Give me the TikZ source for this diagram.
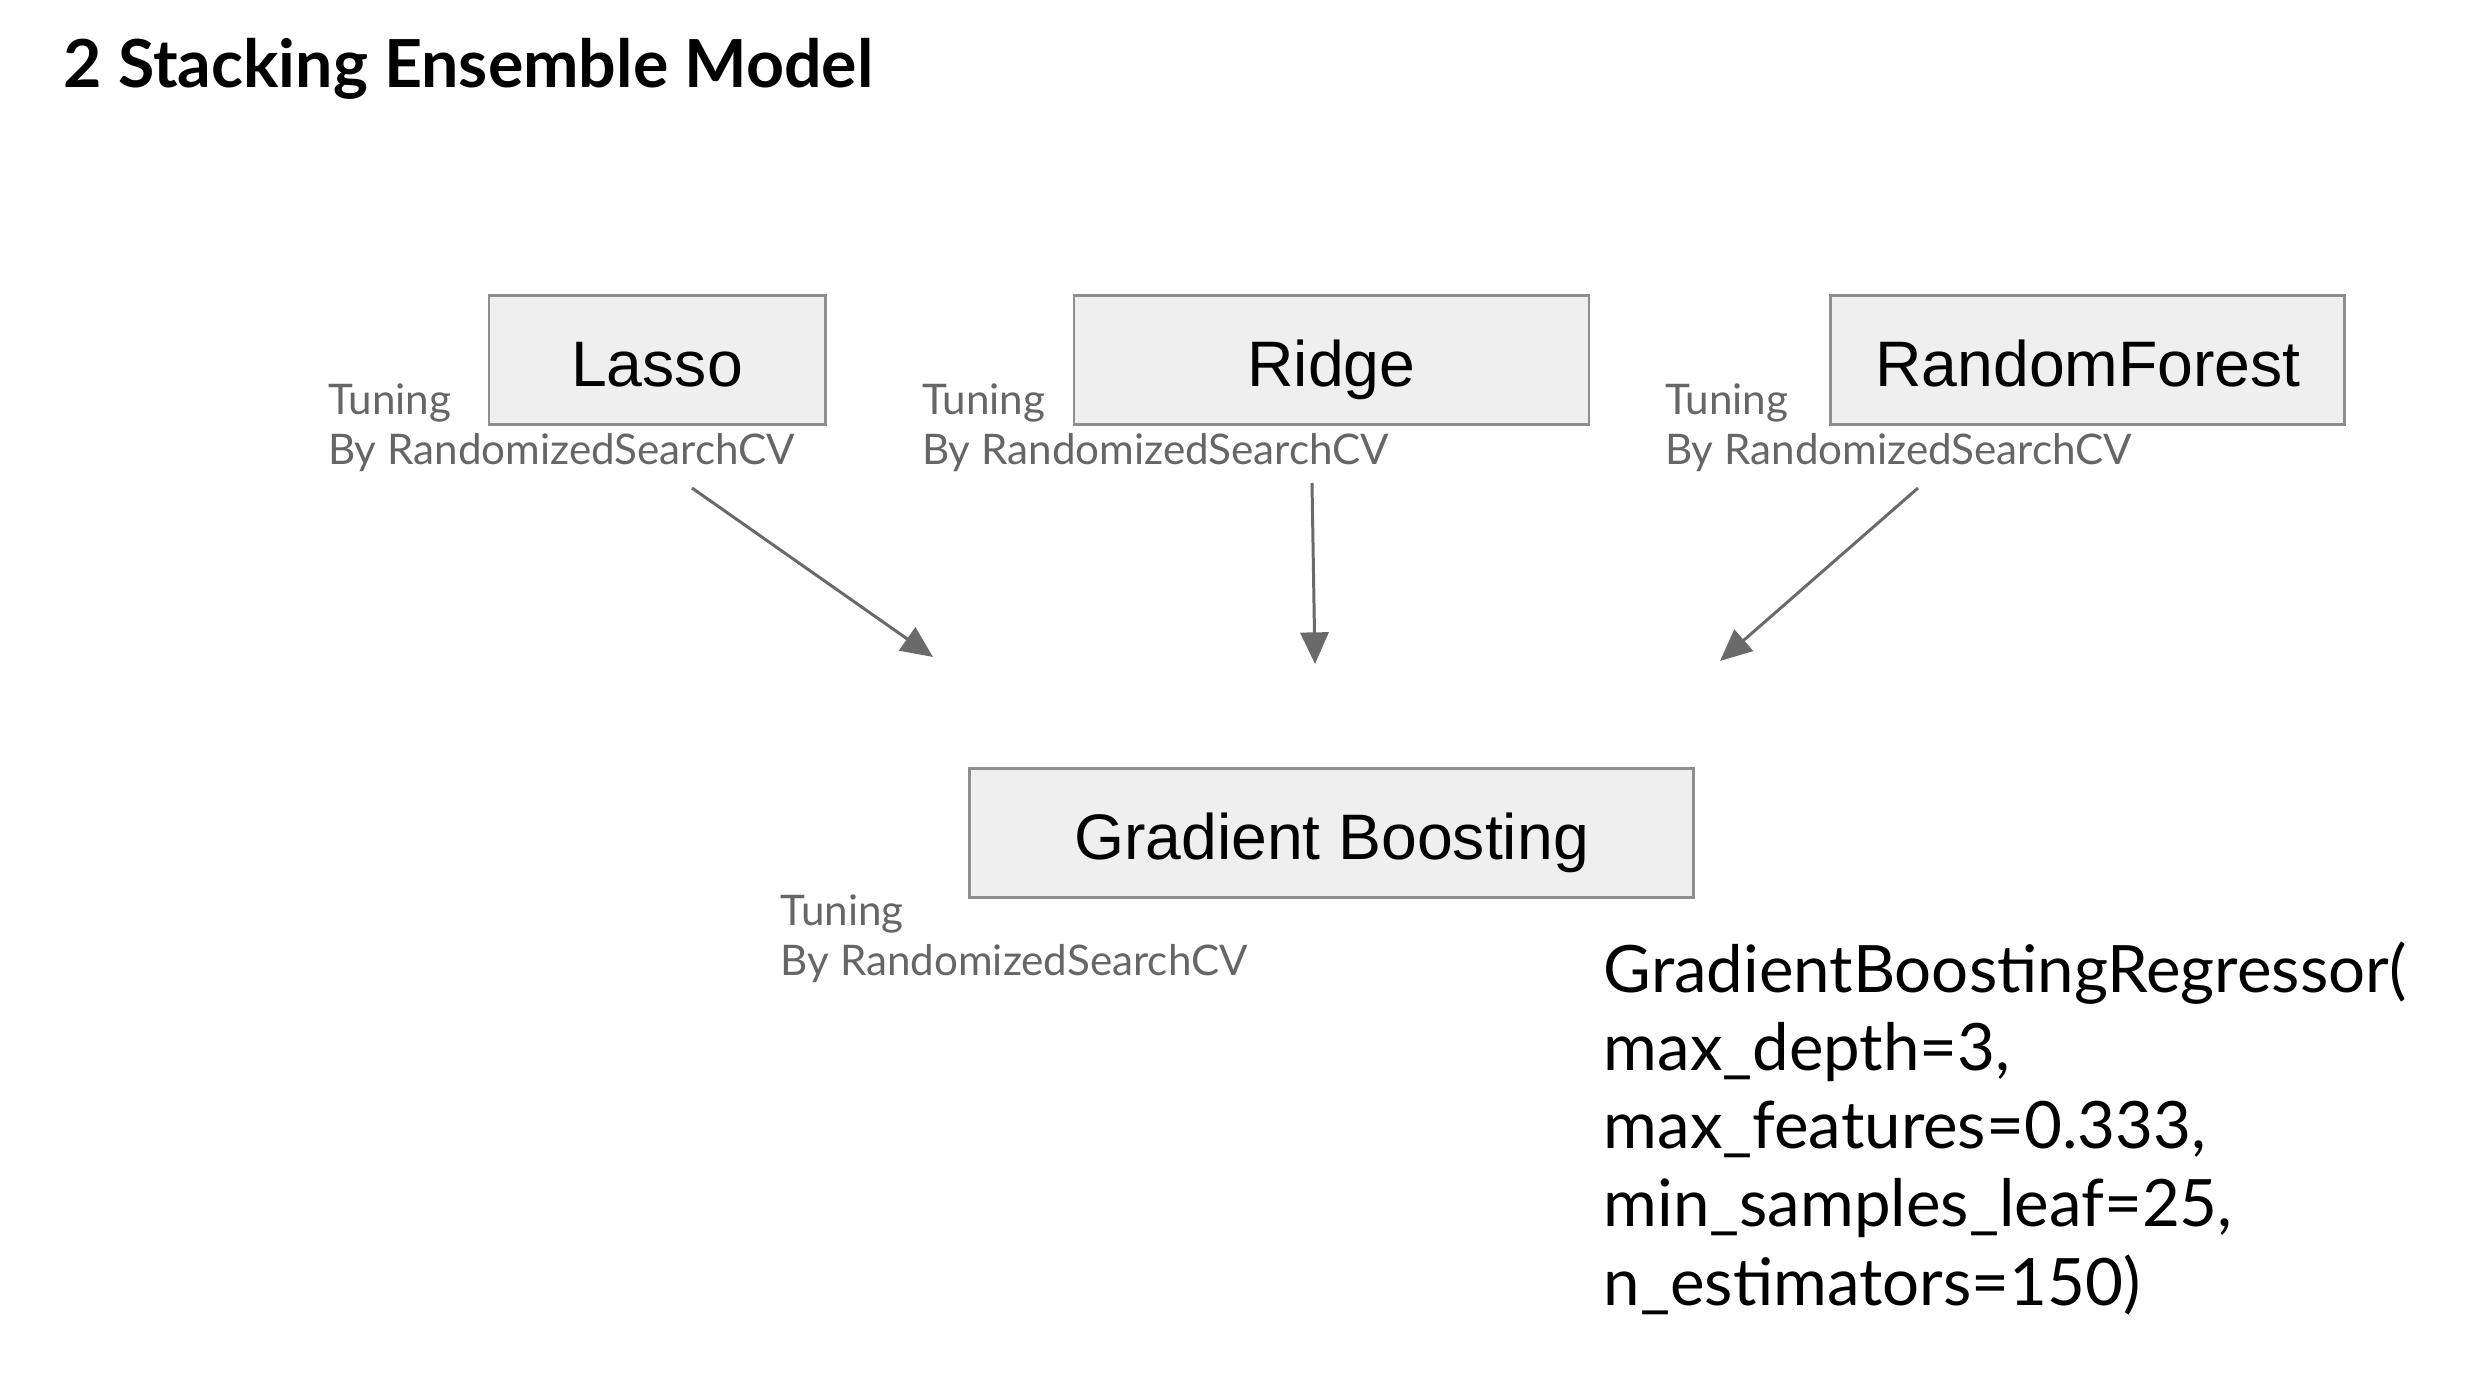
\documentclass[tikz,border=0pt]{standalone}
\usepackage{fontspec}
\usepackage{xcolor}
\usepackage{tikz}
\usetikzlibrary{arrows.meta, positioning, calc}
\newfontfamily\latofont{Lato}
\newfontfamily\arialfont{Liberation Sans}
\definecolor{boxfill}{HTML}{EFEFEF}
\definecolor{boxline}{HTML}{8E8E8E}
\definecolor{tunegray}{HTML}{666666}
\definecolor{arrowgray}{HTML}{6A6A6A}
\tikzset{
>={Triangle[length=9pt,width=8pt]},
model/.style={%
    rectangle,
    minimum height=1.29cm,
    text height=15.2pt,
    text depth=0.4pt,
    fill=boxfill,
    draw=boxline,
    line width=0.85pt,
    % Font
    font=\arialfont\fontsize{18.3}{22}\selectfont,
    text=black
},
tuning/.style={%
    anchor=base west,inner sep=0pt,align=left,text=tunegray,
    font=\latofont\fontsize{12}{14.5}\selectfont
},
feed/.style={->,draw=arrowgray,fill=arrowgray,line width=0.85pt},
}

\begin{document}
\begin{tikzpicture}
	\useasboundingbox (0,0) rectangle (24.84,-13.74);
	\node[anchor=base west, inner sep=0pt, font=\latofont\bfseries\fontsize{18.85}{23}\selectfont] (title) at (0.63,-0.87) {2 Stacking Ensemble Model};

	\node[model, minimum width=3.36cm] (lasso) at (6.57,-3.60) {Lasso};
	\node[model, minimum width=5.15cm, right=2.46cm of lasso] (ridge) {Ridge};
	\node[model, minimum width=5.14cm, right=2.39cm of ridge] (forest) {RandomForest};
	\node[model, minimum width=7.24cm, below=3.41cm of ridge] (gboost) {Gradient Boosting};

	% base of a two-line label is its second line
	\node[tuning] (lassotune) at ($(lasso.south west)+(-1.60,-0.39)$) {Tuning\\By RandomizedSearchCV};
	\node[tuning] (ridgetune) at ($(ridge.south west)+(-1.51,-0.39)$) {Tuning\\By RandomizedSearchCV};
	\node[tuning] (foresttune) at ($(forest.south west)+(-1.65,-0.39)$) {Tuning\\By RandomizedSearchCV};
	\node[tuning] (gboosttune) at ($(gboost.south west)+(-1.88,-0.77)$) {Tuning\\By RandomizedSearchCV};

	\node[anchor=base west, inner sep=0pt, align=left, font=\latofont\fontsize{18.6}{22.2}\selectfont] (params) at (16.03,-13.05) {GradientBoostingRegressor(\\max\_depth=3,\\max\_features=0.333,\\min\_samples\_leaf=25,\\n\_estimators=150)};

	% free ends of the arrows
	\coordinate (lassofrom) at (6.92,-4.88);
	\coordinate (lassoto) at (9.33,-6.57);
	\coordinate (ridgefrom) at (13.12,-4.83);
	\coordinate (ridgeto) at (13.15,-6.64);
	\coordinate (forestfrom) at (19.18,-4.88);
	\coordinate (forestto) at (17.20,-6.61);

	\draw[feed] (lassofrom) -- (lassoto);
	\draw[feed] (ridgefrom) -- (ridgeto);
	\draw[feed] (forestfrom) -- (forestto);
\end{tikzpicture}
\end{document}
